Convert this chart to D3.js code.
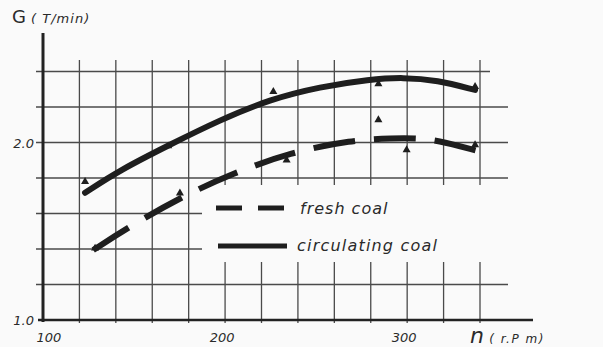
<!DOCTYPE html>
<html>
<head>
<meta charset="utf-8">
<script src="https://cdn.jsdelivr.net/npm/d3@7"></script>
<style>
body { margin: 0; background: #fafafa; }
svg { display: block; }
text { fill: #2a2a2a; font-family: "DejaVu Sans", sans-serif; font-style: italic; }
</style>
</head>
<body>
<div id="chart"></div>
<script>
// revolutions (r.p.m) and G (T/min)
var circ_n = [123.1, 142.3, 169.7, 197.2, 224.6, 252.1, 279.6, 297.7, 316.4, 337.3];
var circ_g = [1.717, 1.845, 1.988, 2.127, 2.243, 2.314, 2.356, 2.367, 2.352, 2.296];
var fresh_n = [127.6, 146, 176.2, 204.2, 235.6, 269.5, 292.8, 304.3, 316.2, 338.2];
var fresh_g = [1.394, 1.517, 1.695, 1.826, 1.943, 2.014, 2.024, 2.024, 2.014, 1.954];
// measured points (triangles)
var circ_pt_n = [123.1, 168.8, 226.5, 284.2, 337.3];
var circ_pt_g = [1.779, 1.98, 2.286, 2.33, 2.314];
var fresh_pt_n = [284.2, 299.7, 337.3, 233.8, 175.2, 128.6];
var fresh_pt_g = [2.127, 1.958, 1.986, 1.901, 1.714, 1.404];

var x_ticks = [100, 200, 300];
var y_ticks = [1.0, 2.0];
var x_grid = [120, 140, 160, 180, 200, 220, 240, 260, 280, 300, 320, 340];
var y_grid = [1.2, 1.4, 1.6, 1.8, 2.0, 2.2, 2.4];

var width = 603, height = 347;
var bg = "#fafafa", ink = "#1e1e1e";

var x = d3.scaleLinear().domain([100, 340]).range([43, 480]);
var y = d3.scaleLinear().domain([1.0, 2.0]).range([320, 142.5]);

var svg = d3.select("#chart").append("svg")
	.attr("width", width)
	.attr("height", height);

// grid
svg.selectAll(".vgrid")
	.data(x_grid)
	.enter().append("line")
	.attr("x1", function(d) { return x(d); })
	.attr("x2", function(d) { return x(d); })
	.attr("y1", y(2.465))
	.attr("y2", y(1.0) + 3)
	.style("stroke", "#4a4a4a")
	.style("stroke-width", 1.3);

svg.selectAll(".hgrid")
	.data(y_grid)
	.enter().append("line")
	.attr("x1", 36)
	.attr("x2", function(d) { return d > 2.3 ? 490 : 508; })
	.attr("y1", function(d) { return y(d); })
	.attr("y2", function(d) { return y(d); })
	.style("stroke", "#4a4a4a")
	.style("stroke-width", 1.3);

// blank patch behind the legend, the grid is not drawn there
svg.append("rect")
	.attr("x", 202)
	.attr("y", 185)
	.attr("width", 320)
	.attr("height", 77)
	.style("fill", bg);

// axes
svg.append("line")
	.attr("x1", x(100)).attr("x2", x(100))
	.attr("y1", 33).attr("y2", y(1.0) + 2)
	.style("stroke", "#222").style("stroke-width", 3);

svg.append("line")
	.attr("x1", 38).attr("x2", 533)
	.attr("y1", y(1.0)).attr("y2", y(1.0))
	.style("stroke", "#222").style("stroke-width", 2.6);

// tick labels
svg.selectAll(".xlab")
	.data(x_ticks)
	.enter().append("text")
	.attr("x", function(d) { return x(d) + (d == 100 ? 6 : -3); })
	.attr("y", 342)
	.style("text-anchor", "middle")
	.style("font-size", "13px")
	.text(function(d) { return d; });

svg.selectAll(".ylab")
	.data(y_ticks)
	.enter().append("text")
	.attr("x", 34)
	.attr("y", function(d) { return y(d) + 5; })
	.style("text-anchor", "end")
	.style("font-size", "13px")
	.text(function(d) { return d.toFixed(1); });

// axis titles
var gt = svg.append("text").attr("x", 12).attr("y", 23);
gt.append("tspan").style("font-size", "18px").style("font-style", "normal").text("G");
gt.append("tspan").style("font-size", "13px").style("letter-spacing", "1px").text(" ( T/min)");

var nt = svg.append("text").attr("x", 470).attr("y", 343);
nt.append("tspan").style("font-size", "22px").text("n");
nt.append("tspan").style("font-size", "12px").style("letter-spacing", "1.5px").text(" ( r.P m)");

// curves
var line = d3.line()
	.x(function(d) { return x(d[0]); })
	.y(function(d) { return y(d[1]); })
	.curve(d3.curveBasis);

svg.append("path")
	.datum(d3.zip(circ_n, circ_g))
	.attr("d", line)
	.style("fill", "none")
	.style("stroke", ink)
	.style("stroke-width", 6)
	.style("stroke-linecap", "round");

svg.append("path")
	.datum(d3.zip(fresh_n, fresh_g))
	.attr("d", line)
	.style("fill", "none")
	.style("stroke", ink)
	.style("stroke-width", 6)
	.style("stroke-dasharray", "42,19");

// triangles
var tri = d3.symbol().type(d3.symbolTriangle).size(28);
svg.selectAll(".pt")
	.data(d3.zip(circ_pt_n, circ_pt_g).concat(d3.zip(fresh_pt_n, fresh_pt_g)))
	.enter().append("path")
	.attr("d", tri)
	.attr("transform", function(d) { return "translate(" + x(d[0]) + "," + y(d[1]) + ")"; })
	.style("fill", ink);

// legend
svg.append("line")
	.attr("x1", 216).attr("x2", 284)
	.attr("y1", 208).attr("y2", 208)
	.style("stroke", ink).style("stroke-width", 5)
	.style("stroke-dasharray", "26,16");
svg.append("text")
	.attr("x", 300).attr("y", 214)
	.style("font-size", "16px")
	.style("letter-spacing", "1px")
	.text("fresh coal");

svg.append("line")
	.attr("x1", 218).attr("x2", 287)
	.attr("y1", 246).attr("y2", 246)
	.style("stroke", ink).style("stroke-width", 5);
svg.append("text")
	.attr("x", 297).attr("y", 251)
	.style("font-size", "16px")
	.style("letter-spacing", "1.2px")
	.text("circulating coal");
</script>
</body>
</html>
